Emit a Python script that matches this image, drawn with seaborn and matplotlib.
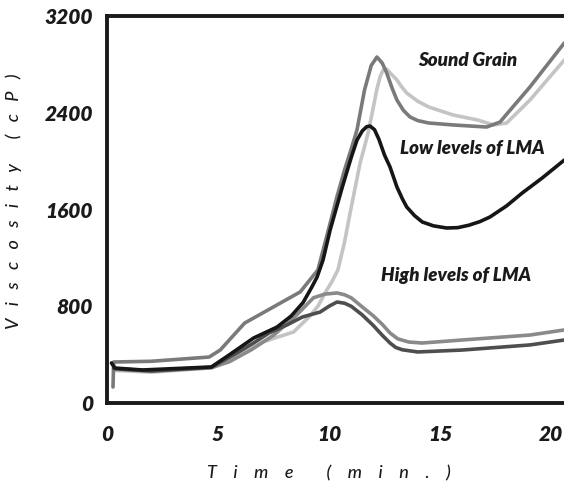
import matplotlib
matplotlib.use("Agg")
import matplotlib.pyplot as plt
import seaborn as sns
import pandas as pd

# ---- data ----
sg_dark_x = [0.27, 0.3, 2.0, 4.6, 5.1, 6.2, 8.7, 9.5, 10.0, 10.35, 10.7, 11.0, 11.26, 11.6, 11.9, 12.16,
             12.4, 12.6, 12.85, 13.06, 13.35, 13.65, 14.0, 14.5, 15.6, 17.1, 17.7, 19.05, 20.6]
sg_dark_y = [132, 339, 345, 380, 438, 661, 918, 1100, 1450, 1700, 1927, 2100, 2257, 2588, 2790, 2861,
             2810, 2729, 2600, 2505, 2420, 2365, 2335, 2315, 2299, 2282, 2323, 2613, 2977]

sg_light_x = [0.3, 2.0, 4.7, 5.5, 7.0, 8.4, 9.1, 9.5, 9.9, 10.15, 10.4, 10.7, 10.95, 11.2, 11.4, 11.6,
              11.76, 12.0, 12.15, 12.3, 12.4, 12.5, 12.6, 12.75, 13.06, 13.25, 13.5, 14.0, 14.5, 15.6,
              16.7, 17.4, 18.0, 19.05, 20.6]
sg_light_y = [270, 255, 290, 350, 504, 587, 711, 800, 934, 1010, 1100, 1330, 1571, 1800, 1984, 2120,
              2232, 2447, 2590, 2696, 2740, 2762, 2760, 2730, 2671, 2620, 2563, 2495, 2447, 2381,
              2340, 2299, 2315, 2505, 2836]

low_x = [0.2, 0.36, 1.6, 4.7, 5.5, 6.6, 7.66, 8.3, 8.83, 9.2, 9.46, 9.73, 10.05, 10.6, 11.0, 11.26,
         11.5, 11.7, 11.85, 12.05, 12.25, 12.5, 12.75, 13.06, 13.3, 13.5, 13.85, 14.2, 14.7, 15.3,
         15.8, 16.3, 16.8, 17.25, 18.0, 18.7, 19.6, 20.6]
low_y = [331, 289, 273, 298, 397, 537, 628, 720, 830, 950, 1040, 1182, 1430, 1786, 2030, 2174,
         2250, 2285, 2290, 2260, 2180, 2050, 1951, 1786, 1690, 1621, 1550, 1497, 1465, 1447,
         1450, 1470, 1500, 1538, 1630, 1736, 1860, 2009]

high_up_x = [0.3, 2.0, 4.7, 5.5, 6.5, 7.5, 8.5, 9.3, 9.8, 10.36, 10.7, 11.0, 11.5, 12.0, 12.4, 12.75,
             13.1, 13.6, 14.2, 16.0, 19.05, 20.6]
high_up_y = [280, 262, 292, 340, 440, 560, 720, 870, 900, 910, 895, 870, 794, 720, 650, 579,
             530, 504, 496, 521, 562, 604]

high_lo_x = [0.3, 2.0, 4.7, 5.85, 6.6, 7.3, 8.1, 8.8, 9.6, 10.0, 10.36, 10.7, 11.0, 11.5, 12.0, 12.4,
             12.75, 13.0, 13.3, 14.0, 16.0, 19.05, 20.6]
high_lo_y = [285, 265, 295, 413, 496, 579, 645, 711, 752, 800, 835, 825, 800, 728, 640, 560,
             496, 460, 440, 422, 438, 480, 521]

x_ticks = [0, 5, 10, 15, 20]
y_ticks = [0, 800, 1600, 2400, 3200]

sns.set_style("white")
plt.rcParams["font.family"] = ["Lato", "DejaVu Sans"]

fig = plt.figure(figsize=(5.64, 4.84), dpi=100)
ax = fig.add_axes([107 / 564, (484 - 403) / 484, (564 - 107) / 564, (403 - 16) / 484])

series = [
    (sg_light_x, sg_light_y, "#c4c4c4"),
    (sg_dark_x, sg_dark_y, "#7a7a7a"),
    (high_up_x, high_up_y, "#8a8a8a"),
    (high_lo_x, high_lo_y, "#4e4e4e"),
    (low_x, low_y, "#161616"),
]
for xs, ys, c in series:
    df = pd.DataFrame({"t": xs, "v": ys})
    sns.lineplot(data=df, x="t", y="v", ax=ax, color=c, linewidth=2.6,
                 sort=False, estimator=None)
for ln in ax.get_lines():
    ln.set_solid_joinstyle("round")
    ln.set_solid_capstyle("round")

ax.set_xlim(0, (564 - 107) / 22.2)
ax.set_ylim(0, 3200)
ax.set_xticks(x_ticks)
ax.set_yticks(y_ticks)
ax.set_xticklabels([str(v) for v in x_ticks], fontsize=15, fontweight="heavy", fontstyle="italic")
ax.set_yticklabels([str(v) for v in y_ticks], fontsize=15, fontweight="heavy", fontstyle="italic")

for s in ["left", "bottom", "top"]:
    ax.spines[s].set_linewidth(2.8)
    ax.spines[s].set_color("#1a1a1a")
ax.spines["right"].set_visible(False)
ax.tick_params(axis="x", direction="out", length=9, width=2.2, pad=7, colors="#1a1a1a")
ax.tick_params(axis="y", direction="out", length=7, width=2.2, pad=3, colors="#1a1a1a")
ax.tick_params(labelcolor="#1a1a1a")

ax.set_xlabel("T    i    m    e        (    m    i    n    .    )", fontsize=13,
              fontstyle="italic", fontweight="medium", color="#1a1a1a")
ax.set_ylabel("V   i   s   c   o   s   i   t   y      (   c   P   )", fontsize=13,
              fontstyle="italic", fontweight="medium", color="#1a1a1a")
ax.xaxis.set_label_coords(0.486, -0.16)
ax.yaxis.set_label_coords(-0.186, 0.522)

for tx, ty, label in [(16.26, 2836, "Sound Grain"), (16.44, 2108, "Low levels of LMA"),
                      (15.72, 1058, "High levels of LMA")]:
    ax.text(tx, ty, label, fontsize=13.5, fontweight="heavy", fontstyle="italic",
            ha="center", va="center", color="#1a1a1a")

fig.savefig("out.png", dpi=100)
